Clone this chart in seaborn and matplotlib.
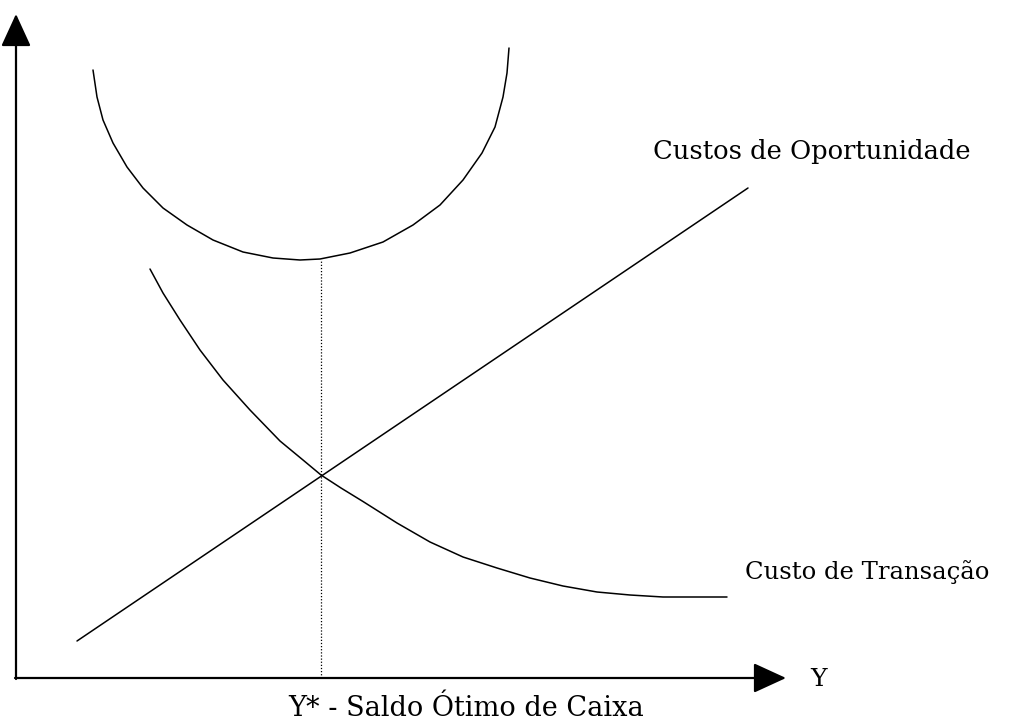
import numpy as np
import pandas as pd
import matplotlib
matplotlib.use("Agg")
import matplotlib.pyplot as plt
import seaborn as sns

# Curve points (origin = where the two axes meet)
total_x = [77, 81, 87, 97, 111, 127, 147, 171, 197, 227, 257, 284,
           304, 334, 367, 397, 424, 447, 466, 479, 487, 491, 493]
total_y = [608, 581, 558, 535, 511, 490, 470, 453, 438, 426, 420, 418,
           419, 425, 436, 453, 473, 498, 525, 551, 581, 605, 630]

transacao_x = [134, 147, 164, 184, 207, 234, 264, 287, 305, 325, 347,
               381, 414, 447, 481, 514, 547, 581, 614, 647, 711]
transacao_y = [409, 385, 358, 328, 298, 268, 237, 218, 203, 190, 176.5,
               155, 136, 121, 110, 100, 92, 86, 83, 81, 81]

oportunidade_x = [61, 732]
oportunidade_y = [37, 490]

y_otimo = 305          # optimal cash balance (x of the crossing)
custo_min = 418        # bottom of the total cost curve

label_oportunidade = "Custos de Oportunidade"
label_transacao = "Custo de Transação"
label_eixo_x = "Y"
label_otimo = "Y* - Saldo Ótimo de Caixa"

sns.set_theme(style="white")
plt.rcParams["font.family"] = ["DejaVu Serif", "Liberation Serif"]

fig = plt.figure(figsize=(10.11, 7.22), dpi=100)
ax = fig.add_axes([0, 0, 1, 1])
ax.set_xlim(-16, 995)
ax.set_ylim(-44, 678)
ax.axis("off")

line_kw = dict(color="black", linewidth=1.1, sort=False, legend=False, ax=ax)
sns.lineplot(x=total_x, y=total_y, **line_kw)
sns.lineplot(x=transacao_x, y=transacao_y, **line_kw)
sns.lineplot(x=oportunidade_x, y=oportunidade_y, **line_kw)

# dotted guide from the minimum of the total cost down to the axis
ax.plot([y_otimo, y_otimo], [0, custo_min], color="black", linewidth=0.9,
        linestyle=(0, (1, 1.5)))

# axes with filled arrowheads
arrow = dict(arrowstyle="-|>,head_length=1.7,head_width=0.78", color="black",
             linewidth=1.6, shrinkA=0, shrinkB=0)
ax.annotate("", xy=(0, 664), xytext=(0, -1), arrowprops=arrow)
ax.annotate("", xy=(770, 0), xytext=(-1, 0), arrowprops=arrow)

ax.text(637, 526, label_oportunidade, ha="left", va="center", fontsize=18.5,
        color="black")
ax.text(729, 106, label_transacao, ha="left", va="center", fontsize=17.5,
        color="black")
ax.text(794, -2, label_eixo_x, ha="left", va="center", fontsize=18,
        color="black")
ax.text(272, -30, label_otimo, ha="left", va="center", fontsize=19.5,
        color="black")

fig.savefig("out.png", dpi=100, facecolor="white")
